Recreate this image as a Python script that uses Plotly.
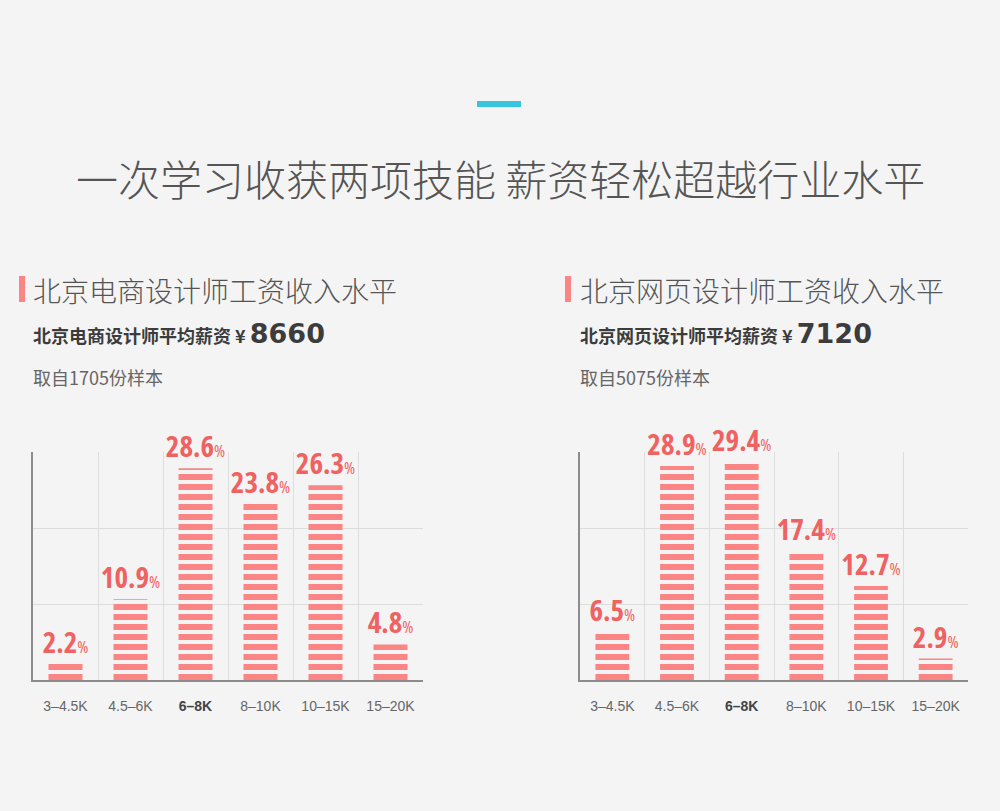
import plotly.graph_objects as go

# ---- data ----
categories = ["3–4.5K", "4.5–6K", "6–8K", "8–10K", "10–15K", "15–20K"]
tick_labels = ["3–4.5K", "4.5–6K", "<b><span style='color:#444444'>6–8K</span></b>", "8–10K", "10–15K", "15–20K"]
values_ecommerce = [2.2, 10.9, 28.6, 23.8, 26.3, 4.8]
values_web = [6.5, 28.9, 29.4, 17.4, 12.7, 2.9]

main_title = "一次学习收获两项技能 薪资轻松超越行业水平"
left_title = "北京电商设计师工资收入水平"
right_title = "北京网页设计师工资收入水平"
left_avg_label = "北京电商设计师平均薪资 ¥ "
right_avg_label = "北京网页设计师平均薪资 ¥ "
left_avg = "8660"
right_avg = "7120"
left_sample = "取自1705份样本"
right_sample = "取自5075份样本"

# ---- style ----
BG = "#f4f4f4"
BAR = "#fb8585"
LABEL = "#ef6262"
GRID = "#dddddd"
AXIS = "#8c8c8c"
W, H = 1000, 811
YMAX = 30.8

def px_x(x):
    return x / W

def px_y(y):
    return 1 - y / H

fig = go.Figure()

def label_text(v):
    return (f"<span style=\"font-family:'Open Sans';font-stretch:75%;font-weight:bold;font-size:29px\">{v}</span>"
            f"<span style=\"font-family:'Open Sans';font-stretch:75%;font-weight:normal;font-size:17px\">%</span>")

for vals, xa, ya in [(values_ecommerce, "x", "y"), (values_web, "x2", "y2")]:
    fig.add_trace(go.Bar(
        x=categories, y=vals, xaxis=xa, yaxis=ya,
        marker=dict(color=BAR, line=dict(width=0),
                    pattern=dict(shape="-", fillmode="replace", size=10,
                                 solidity=0.6, fgcolor=BAR, bgcolor=BG)),
        text=[label_text(v) for v in vals],
        texttemplate="%{text}",
        textposition="outside",
        constraintext="none",
        cliponaxis=False,
        textfont=dict(color=LABEL, size=29, family="Open Sans"),
        hoverinfo="skip",
        showlegend=False,
    ))

ydom = [131 / H, 359 / H]
ticks = [0, YMAX / 3, 2 * YMAX / 3, YMAX]

common_x = dict(type="category", tickson="boundaries", showgrid=True, gridcolor=GRID,
                gridwidth=1, showline=True, linecolor=AXIS, linewidth=1.5, ticks="",
                ticklabelstandoff=12,
                tickfont=dict(family="Liberation Sans, Arial, sans-serif", size=14, color="#666666"),
                tickvals=categories, ticktext=tick_labels, fixedrange=True)
common_y = dict(range=[0, YMAX], tickvals=ticks, showticklabels=False, showgrid=True,
                gridcolor=GRID, gridwidth=1, showline=True, linecolor=AXIS, linewidth=1.5,
                zeroline=False, ticks="", domain=ydom, fixedrange=True)

fig.update_layout(
    width=W, height=H,
    margin=dict(l=0, r=0, t=0, b=0),
    paper_bgcolor=BG, plot_bgcolor=BG,
    bargap=0.477,
    xaxis=dict(domain=[33 / W, 423 / W], anchor="y", **common_x),
    yaxis=dict(anchor="x", **common_y),
    xaxis2=dict(domain=[580 / W, 968 / W], anchor="y2", **common_x),
    yaxis2=dict(anchor="x2", **common_y),
    font=dict(family="Noto Sans CJK SC, sans-serif"),
)

# top accent bar
fig.add_shape(type="rect", xref="paper", yref="paper",
              x0=px_x(477), x1=px_x(521), y0=px_y(107), y1=px_y(101),
              fillcolor="#37c6dd", line=dict(width=0))
# section markers
for x0 in (19, 565):
    fig.add_shape(type="rect", xref="paper", yref="paper",
                  x0=px_x(x0), x1=px_x(x0 + 6), y0=px_y(302), y1=px_y(276),
                  fillcolor=BAR, line=dict(width=0))

anns = []
anns.append(dict(text=main_title, x=0.5, y=px_y(178), xanchor="center", yanchor="middle",
                 font=dict(family="Noto Sans CJK SC", size=42, color="#555555", weight=300)))
for x0, t, avg_lbl, avg, smp in [(31, left_title, left_avg_label, left_avg, left_sample),
                                  (578, right_title, right_avg_label, right_avg, right_sample)]:
    anns.append(dict(text=t, x=px_x(x0), y=px_y(290), xanchor="left", yanchor="middle",
                     font=dict(family="Noto Sans CJK SC", size=28, color="#555555", weight=300)))
    anns.append(dict(text=(f"<b>{avg_lbl}</b><span style=\"font-family:'DejaVu Sans',sans-serif;"
                           f"font-size:27px;font-weight:bold\">{avg}</span>"),
                     x=px_x(x0), y=px_y(333), xanchor="left", yanchor="middle",
                     font=dict(family="Noto Sans CJK SC", size=18, color="#3c3c3c")))
    anns.append(dict(text=smp, x=px_x(x0), y=px_y(377), xanchor="left", yanchor="middle",
                     font=dict(family="Noto Sans CJK SC", size=18, color="#666666")))
for a in anns:
    a.update(xref="paper", yref="paper", showarrow=False)
fig.update_layout(annotations=anns)

fig.write_html("out.html")
